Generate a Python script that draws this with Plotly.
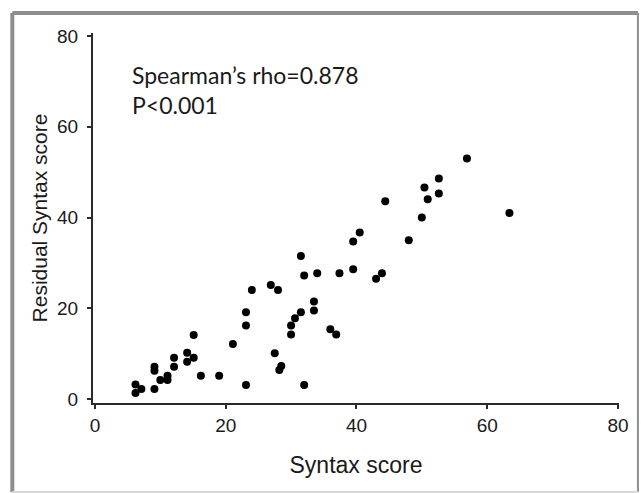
import plotly.graph_objects as go

syntax_score = [6.2, 6.2, 7.1, 9.1, 9.1, 9.1, 10.0, 11.1, 11.1, 12.1, 12.1, 14.1, 14.1,
                15.1, 15.1, 16.2, 19.0, 21.1, 23.1, 23.1, 23.1, 24.0, 26.9, 28.0, 27.5,
                28.2, 28.5, 56.9, 52.6, 50.4, 50.9, 52.6, 44.4, 50.0, 63.4, 48.0, 40.5,
                39.5, 31.5, 32.0, 34.0, 37.4, 39.5, 43.0, 43.9, 33.5, 33.5, 31.5, 30.6,
                30.0, 30.0, 36.0, 36.9, 32.0]
residual_syntax = [3.2, 1.3, 2.2, 7.1, 6.2, 2.2, 4.2, 5.1, 4.2, 9.1, 7.1, 10.2, 8.2,
                   14.1, 9.1, 5.1, 5.1, 12.1, 19.1, 16.2, 3.1, 24.0, 25.1, 24.0, 10.1,
                   6.4, 7.3, 53.0, 48.6, 46.6, 44.0, 45.3, 43.6, 40.0, 41.0, 35.0, 36.7,
                   34.7, 31.5, 27.2, 27.7, 27.7, 28.6, 26.5, 27.7, 21.5, 19.5, 19.1, 17.8,
                   16.2, 14.2, 15.4, 14.2, 3.1]
tick_vals = [0, 20, 40, 60, 80]
stat_lines = ["Spearman\u2019s rho=0.878", "P<0.001"]

fig = go.Figure()
fig.add_trace(go.Scatter(
    x=syntax_score, y=residual_syntax, mode="markers",
    marker=dict(color="black", size=8, line=dict(width=0)),
    showlegend=False, hoverinfo="skip"))

axis_common = dict(
    showgrid=False, zeroline=False, showline=True, linecolor="#2a2a2a", linewidth=2,
    ticks="outside", ticklen=4, tickwidth=1.5, tickcolor="#2a2a2a",
    tickvals=tick_vals, ticktext=[str(v) for v in tick_vals],
    tickfont=dict(family="Liberation Sans, Arial, sans-serif", size=19, color="#1a1a1a"),
)

fig.update_xaxes(range=[-0.3, 80.16], title=dict(text="Syntax score", standoff=22,
                 font=dict(family="Liberation Sans, Arial, sans-serif", size=23, color="#1a1a1a")),
                 **axis_common)
fig.update_yaxes(range=[-0.88, 80.66], ticklabelstandoff=5,
                 title=dict(text="Residual Syntax score", standoff=4,
                 font=dict(family="Liberation Sans, Arial, sans-serif", size=21, color="#1a1a1a")),
                 **axis_common)

ann_font = dict(family="Lato, Noto Sans, sans-serif", size=23, color="#1a1a1a")
fig.add_annotation(x=5.33, y=68.0, xref="x", yref="y", text="<br>".join(stat_lines),
                   showarrow=False, align="left",
                   xanchor="left", yanchor="middle", font=ann_font)

# picture frame
frame_dark = "#8e8e8e"
fig.add_shape(type="line", xref="paper", yref="paper", x0=-0.1534, x1=1.036, y0=1.054, y1=1.054,
              line=dict(color=frame_dark, width=4))
fig.add_shape(type="line", xref="paper", yref="paper", x0=-0.1534, x1=-0.1534, y0=1.054, y1=-0.2405,
              line=dict(color=frame_dark, width=4))
fig.add_shape(type="line", xref="paper", yref="paper", x0=1.036, x1=1.036, y0=1.054, y1=-0.2405,
              line=dict(color=frame_dark, width=2))
fig.add_shape(type="line", xref="paper", yref="paper", x0=-0.1534, x1=1.036, y0=-0.2405, y1=-0.2405,
              line=dict(color="#d8d8d8", width=2))

fig.update_layout(
    width=641, height=493, autosize=False,
    margin=dict(l=93, r=20, t=33, b=90, pad=0),
    plot_bgcolor="white", paper_bgcolor="white",
)

fig.write_html("out.html")
